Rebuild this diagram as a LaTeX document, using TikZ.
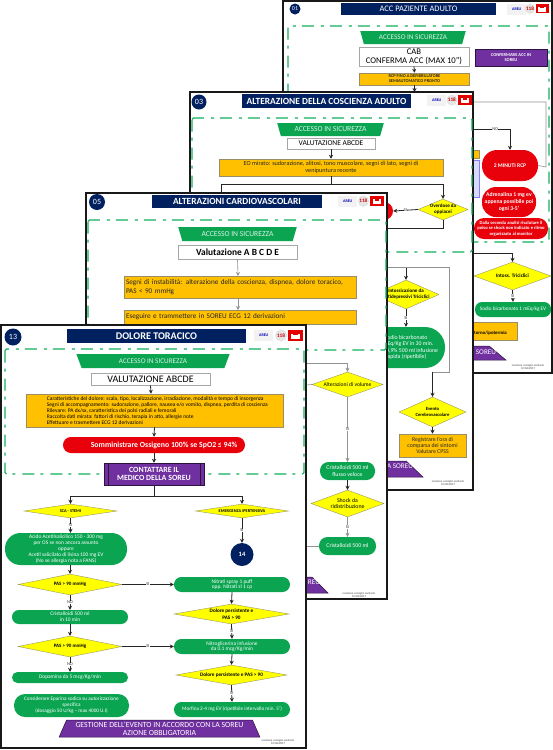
\documentclass[tikz,border=0pt]{standalone}
\usepackage{fontspec}
\setmainfont{Carlito}
\usetikzlibrary{arrows.meta,calc,shapes.geometric}
\definecolor{navySoreu}{HTML}{002060}
\definecolor{verdeFlow}{HTML}{0BA552}
\definecolor{verdeDash}{HTML}{12B05C}
\definecolor{aranciaFlow}{HTML}{FFC000}
\definecolor{violaFlow}{HTML}{7030A0}
\definecolor{rossoFlow}{HTML}{E8000B}
\definecolor{gialloFlow}{HTML}{FFFF00}
\newcommand{\setfs}[2]{\fontsize{#1}{#2}\selectfont}
\newcommand{\ovl}[1]{\makebox[0pt][c]{#1}}
\tikzset{
  dim/.style 2 args={minimum width=#1,minimum height=#2},
  allbox/.style={rectangle,inner sep=0pt,align=center},
  panelbox/.style={draw=black!90,line width=1.8pt,fill=white},
  safezone/.style={draw=verdeDash,line width=1.3pt,rounded corners=1.5pt,dash pattern=on 12pt off 6pt on 3pt off 7pt},
  badge/.style={circle,fill=navySoreu,text=white,inner sep=0pt},
  titlebox/.style={allbox,fill=navySoreu,text=white},
  secure/.style={trapezium,trapezium stretches=true,trapezium left angle=62,trapezium right angle=62,shape border rotate=180,fill=verdeFlow,text=white!85!verdeFlow,inner sep=0pt},
  whitebox/.style={allbox,draw=gray!70,line width=.8pt,fill=white},
  orangebox/.style={allbox,draw=gray!80!aranciaFlow,line width=.5pt,fill=aranciaFlow,text=black!85},
  purplebox/.style={allbox,draw=black!60!violaFlow,line width=.5pt,fill=violaFlow,text=white},
  bottomtrap/.style={trapezium,trapezium stretches=true,trapezium left angle=64,trapezium right angle=64,draw=black!60!violaFlow,line width=.5pt,fill=violaFlow,text=white,inner sep=0pt,align=center},
  greenbox/.style={allbox,fill=verdeFlow,text=white,rounded corners=#1},
  redbox/.style={allbox,fill=rossoFlow,text=white,rounded corners=#1},
  decision/.style={diamond,aspect=4.5,draw=gray!80!gialloFlow,line width=.4pt,fill=gialloFlow,text=black,inner sep=0pt,align=center},
  flowline/.style={draw=black!85,line width=.8pt},
  thinline/.style={draw=gray!85,line width=.6pt},
  edgetag/.style={font=\setfs{4.4}{5},fill=white,inner sep=.4pt,text=black!80},
  revtext/.style={font=\setfs{2.9}{3.4},align=center,text=black!75,inner sep=0pt},
}
\newcommand{\logobar}[4]{
  \begin{scope}[shift={(#2,#3)},scale=#4]
    \node[allbox,dim={19pt}{11pt},fill=gray!10,text=blue!70!black,font=\bfseries\setfs{4}{4},anchor=north west] (#1areu) at (0,0) {AREU};
    \draw[fill=gray!20,draw=gray!30,line width=.3pt] (27,5.5) circle (5.6);
    \node[inner sep=0pt,text=red!80!black,font=\bfseries\setfs{5.2}{6}] (#1ctr) at (27,5.5) {118};
    \fill[red!90!black] (34,0) rectangle (49,11);
    \fill[white] (37,3.5) rectangle (46,9);
    \fill[red!90!black] (39,2) rectangle (44,5);
  \end{scope}
}
\begin{document}
\begin{tikzpicture}[x=1pt,y=-1pt,>={Stealth[length=4pt,width=4pt]}]
  \useasboundingbox (0,0) rectangle (553,750);
  % scheda 01
  \draw[panelbox] (283,1) rectangle (552,373);
  \node[badge,minimum size=11pt,font=\setfs{6}{7}] (bad01) at (295,9) {01};
  \node[titlebox,dim={155pt}{12pt},font=\setfs{8.4}{9}] (tit01) at (418.5,9) {ACC PAZIENTE ADULTO};
  \logobar{log01}{507}{4}{.85}
  \draw[safezone] (288,26) rectangle (549,242);
  \node[secure,dim={106pt}{13pt},font=\setfs{7.2}{8}] (acc01) at (413,37.5) {ACCESSO IN SICUREZZA};
  \node[whitebox,dim={110pt}{19pt},font=\setfs{8.7}{9.4}] (cab01) at (414,56.5) {CAB\\CONFERMA ACC (MAX 10'')};
  \node[purplebox,dim={72pt}{17pt},font=\bfseries\setfs{4.5}{5.4}] (con01) at (511,57.5) {CONFERMARE ACC IN\\SOREU};
  \node[orangebox,dim={110pt}{12pt},font=\bfseries\setfs{4.4}{5}] (rcp01) at (414.5,79) {RCP FINO A DEFIBRILLATORE\\SEMIAUTOMATICO PRONTO};
  \coordinate (giu01) at (414.5,92);
  \draw[flowline,->] (cab01.south) -- (rcp01.north);
  \draw[flowline,->] (rcp01.south) -- (giu01);
  \node[orangebox,dim={58pt}{8pt}] (stri01) at (450,154) {};
  \node[allbox,dim={58pt}{37pt},draw=blue!50,line width=.5pt,fill=blue!15] (blu01) at (450,178.5) {};
  \node[redbox=15pt,dim={56pt}{31pt},font=\bfseries\setfs{5.6}{6}] (min01) at (510,165.5) {2 MINUTI RCP};
  \node[redbox=14pt,dim={54pt}{30pt},font=\bfseries\setfs{5.7}{6.6}] (adr01) at (509,202) {Adrenalina 1 mg ev\\appena possibile poi\\ogni 3-5'};
  \node[redbox=10pt,dim={74pt}{21pt},font=\bfseries\setfs{4.6}{5.4}] (dal01) at (511,228.5) {Dalla seconda analisi rivalutare il\\polso se shock non indicato e ritmo\\organizzato al monitor};
  \coordinate (no01) at (473,129);
  \coordinate (tor01) at (473,102);
  \draw[flowline,->] (no01) -| node[edgetag,pos=.3] (tno01) {NO} (min01.north);
  \draw[thinline] (tor01) -| (546,167) -- (min01.east);
  \coordinate (int01) at (473,253);
  \node[decision,dim={77pt}{28pt},font=\bfseries\setfs{5.2}{6}] (tri01) at (512.5,276) {\ovl{Intoss. Triciclici}};
  \node[greenbox=7pt,dim={76pt}{15pt},font=\setfs{5.2}{6}] (sod01) at (513,309.5) {Sodio bicarbonato 1 mEq/kg EV};
  \node[orangebox,dim={77pt}{18pt}] (ipo01) at (478.5,331) {};
  \node[anchor=east,inner sep=0pt,font=\bfseries\setfs{4.8}{5}] (ipt01) at (507,333) {ritorno/ipotermia};
  \node[bottomtrap,dim={180pt}{14pt}] (sor01) at (416,353) {\phantom{SOREU}};
  \node[inner sep=0pt,text=white,font=\setfs{7.2}{8}] (sot01) at (486,352) {SOREU};
  \node[revtext] (rev01) at (528,367) {revisione consiglio sanitario\\12/06/2017};
  \draw[flowline,->] (int01) -| (tri01.north);
  \draw[flowline,->] (tri01.south) -- node[edgetag] (tsi01) {SI} (sod01.north);
  % scheda 03
  \draw[panelbox] (190,92) rectangle (473,490);
  \node[badge,minimum size=15pt,font=\setfs{8}{9}] (bad03) at (199,102) {03};
  \node[titlebox,dim={169pt}{14pt},font=\bfseries\setfs{9.4}{10}] (tit03) at (326.5,101) {ALTERAZIONE DELLA COSCIENZA ADULTO};
  \logobar{log03}{427}{95}{.92}
  \draw[safezone] (192,118) rectangle (472,252);
  \node[secure,dim={107pt}{13pt},font=\setfs{7.6}{8}] (acc03) at (330.5,129.5) {ACCESSO IN SICUREZZA};
  \node[whitebox,dim={88pt}{11pt},font=\setfs{7.5}{8}] (val03) at (331,143.5) {VALUTAZIONE ABCDE};
  \node[orangebox,dim={224pt}{17pt},font=\setfs{6.2}{6.6}] (eom03) at (331,167.5) {EO mirato: sudorazione, alitosi, tono muscolare, segni di lato, segni di\\venipuntura recente};
  \node[decision,dim={50pt}{21pt},font=\bfseries\setfs{5}{5.8}] (ove03) at (443,209.5) {\ovl{Overdose da}\\\ovl{oppiacei}};
  \node[redbox=9pt,dim={40pt}{18pt}] (nal03) at (373,211) {};
  \coordinate (sin03) at (221,193);
  \coordinate (sot03) at (387,228);
  \draw[flowline,->] (val03.south) -- (eom03.north);
  \draw[flowline] (eom03.south) -- ++(0,8) -| (sin03);
  \draw[flowline,->] (eom03.south) -- ++(0,8) -| (ove03.north);
  \draw[flowline,->] (ove03.west) -- node[edgetag] (tsi03) {SI} (nal03.east);
  \draw[flowline] (ove03.south) |- (sot03);
  \coordinate (mez03) at (388,267);
  \node[decision,dim={66pt}{29pt},font=\bfseries\setfs{5}{6}] (ant03) at (406,294.5) {\ovl{Intossicazione da}\\\ovl{Antidepressivi Triciclici}};
  \node[greenbox=20pt,dim={78pt}{41pt},font=\setfs{5.8}{6.2}] (bic03) at (406,347.5) {Sodio bicarbonato\\1 mEq/Kg EV in 30 min.\\NaCl 0,9\% 500 ml infusione\\rapida (ripetibile)};
  \node[decision,dim={67pt}{30pt},font=\bfseries\setfs{4.7}{6}] (cer03) at (432.5,412) {\ovl{Evento}\\\ovl{Cerebrovascolare}};
  \node[orangebox,dim={67pt}{23pt},font=\setfs{5.8}{6.4}] (reg03) at (432.5,445.5) {Registrare l'ora di\\comparsa dei sintomi\\Valutare CPSS};
  \node[bottomtrap,dim={180pt}{16pt}] (sor03) at (333,469) {\phantom{SOREU}};
  \node[inner sep=0pt,text=white,font=\setfs{7.2}{8}] (sot03t) at (400,466) {A SOREU};
  \node[revtext] (rev03) at (448,483) {revisione consiglio sanitario\\12/06/2017};
  \draw[flowline,->] (406,267) -- (ant03.north);
  \draw[thinline] (mez03) -| (449,372) -- (432.5,372);
  \draw[flowline,->] (432.5,372) -- (cer03.north);
  \draw[flowline,->] (ant03.south) -- node[edgetag] (tsa03) {SI} (bic03.north);
  \draw[flowline,->] (cer03.south) -- (reg03.north);
  % scheda 05
  \draw[panelbox] (86,193) rectangle (387,599);
  \node[badge,minimum size=16pt,font=\setfs{8}{9}] (bad05) at (97,202) {05};
  \node[titlebox,dim={170pt}{13pt},font=\bfseries\setfs{9.4}{10}] (tit05) at (237,201.5) {ALTERAZIONI CARDIOVASCOLARI};
  \logobar{log05}{338}{196}{.94}
  \draw[safezone] (88,220) rectangle (386,350);
  \node[secure,dim={119pt}{14pt},font=\setfs{7.6}{8}] (acc05) at (237.5,234) {ACCESSO IN SICUREZZA};
  \node[whitebox,dim={119pt}{14pt},font=\bfseries\setfs{9.4}{10}] (val05) at (237.5,252) {Valutazione A B C D E};
  \node[orangebox,dim={232pt}{22pt},text width=228pt,align=left,font=\setfs{7.2}{8.4}] (seg05) at (240,287) {Segni di instabilità: alterazione della coscienza, dispnea, dolore toracico,\\PAS < 90 mmHg};
  \node[orangebox,dim={232pt}{14pt},text width=228pt,align=left,font=\setfs{7.2}{8}] (ecg05) at (240,317) {Eseguire e trammettere in SOREU ECG 12 derivazioni};
  \draw[thinline,->] (val05.south) -- (238,276);
  \draw[thinline,->] (238,298) -- (238,310);
  \node[decision,dim={71pt}{25pt},font=\setfs{5.6}{6}] (vol05) at (347.5,384.5) {\ovl{Alterazioni di volume}};
  \node[greenbox=8.5pt,dim={55pt}{18pt},font=\setfs{5.8}{6.6}] (cri05) at (347.5,471) {Cristalloidi 500 ml\\flusso veloce};
  \node[decision,dim={73pt}{27pt},font=\setfs{5.8}{6.6}] (sho05) at (347.5,503.5) {\ovl{Shock da}\\\ovl{ridistribuzione}};
  \node[greenbox=8.5pt,dim={57pt}{18pt},font=\setfs{5.8}{6.4}] (crj05) at (347.5,546) {Cristalloidi 500 ml};
  \node[bottomtrap,dim={170pt}{16pt}] (sor05) at (243,585) {\phantom{SOREU}};
  \node[inner sep=0pt,text=white,font=\setfs{7.2}{8}] (sot05) at (314,582) {REU};
  \node[revtext] (rev05) at (359,595) {revisione consiglio sanitario\\12/06/2017};
  \coordinate (ent05) at (306,363);
  \coordinate (lat05) at (306,385);
  \coordinate (bas05) at (306,546);
  \draw[thinline,->] (ent05) -| (vol05.north);
  \draw[thinline] (lat05) -- (vol05.west);
  \draw[thinline,->] (vol05.south) -- node[edgetag] (tsi05) {SI} (cri05.north);
  \draw[flowline,->] (cri05.south) -- (sho05.north);
  \draw[thinline,->] (sho05.south) -- node[edgetag] (tsj05) {SI} (crj05.north);
  \draw[thinline] (bas05) -- (crj05.west);
  % scheda 13
  \draw[panelbox] (1,325) rectangle (306,748);
  \node[badge,minimum size=17pt,font=\setfs{8}{9}] (bad13) at (13,337) {13};
  \node[titlebox,dim={179pt}{14pt},font=\bfseries\setfs{10.2}{11}] (tit13) at (156.5,336) {DOLORE TORACICO};
  \logobar{log13}{254}{330}{1}
  \draw[safezone] (5,349) rectangle (304,474);
  \node[secure,dim={154pt}{14pt},font=\setfs{7.2}{8}] (acc13) at (153,361) {ACCESSO IN SICUREZZA};
  \node[whitebox,dim={119pt}{12pt},font=\setfs{10}{10.5}] (val13) at (150.5,379) {VALUTAZIONE ABCDE};
  \node[orangebox,dim={257pt}{33pt}] (car13) at (154.5,410.5) {};
  \node[anchor=west,inner sep=0pt,align=left,font=\setfs{5.5}{6}] (cat13) at ([xshift=21pt]car13.west) {Caratteristiche del dolore: scala, tipo, localizzazione, irradiazione, modalità e tempo di insorgenza\\Segni di accompagnamento: sudorazione, pallore, nausea e/o vomito, dispnea, perdita di coscienza\\Rilevare: PA dx/sx, caratteristica dei polsi radiali e femorali\\Raccolta dati mirata: fattori di rischio, terapia in atto, allergie note\\Effettuare e trasmettere ECG 12 derivazioni};
  \node[redbox=7.9pt,dim={182pt}{16pt},font=\bfseries\setfs{7.8}{8}] (oss13) at (154,445) {\hspace*{20pt}Somministrare Ossigeno 100\% se SpO2 ≤ 94\%};
  \node[purplebox,dim={100pt}{22pt},font=\bfseries\setfs{7.9}{8.4}] (med13) at (154,474) {CONTATTARE IL\\MEDICO DELLA SOREU};
  \draw[black!60!violaFlow,line width=.5pt] ([xshift=4pt]med13.north west) -- ([xshift=4pt]med13.south west);
  \draw[black!60!violaFlow,line width=.5pt] ([xshift=-4pt]med13.north east) -- ([xshift=-4pt]med13.south east);
  \node[decision,dim={93pt}{14pt},font=\bfseries\setfs{4.3}{5}] (sca13) at (70.5,511) {\ovl{SCA - STEMI}};
  \node[decision,dim={93pt}{14pt},font=\bfseries\setfs{4.3}{5}] (eme13) at (242,511) {\ovl{EMERGENZA IPERTENSIVA}};
  \node[greenbox=15.5pt,dim={122pt}{32pt},font=\setfs{5.4}{5.8}] (asa13) at (66,549) {Acido Acetilsalicilico 150 - 300 mg\\per OS se non ancora assunto\\oppure\\Acetil salicilato di lisina 100 mg EV\\(No se allergia nota a FANS)};
  \node[circle,fill=navySoreu,text=white,minimum size=23pt,inner sep=0pt,font=\bfseries\setfs{6.5}{7}] (qua13) at (242,554.5) {14};
  \node[decision,dim={104pt}{21pt},font=\bfseries\setfs{5}{5.6}] (pas13) at (70,584.5) {\ovl{PAS > 90 mmHg}};
  \node[greenbox=7.4pt,dim={116pt}{15pt},font=\setfs{5.4}{5.8}] (nit13) at (232,584.5) {Nitrati spray 1 puff\\opp. Nitrati sl 1 cp};
  \node[greenbox=6.9pt,dim={116pt}{14pt},font=\setfs{5.4}{5.8}] (cri13) at (70,617) {Cristalloidi 500 ml\\in 10 min};
  \node[decision,dim={115pt}{20pt},font=\bfseries\setfs{5.2}{6.4}] (dol13) at (231.5,614) {\ovl{Dolore persistente e}\\\ovl{PAS > 90}};
  \node[decision,dim={104pt}{21pt},font=\bfseries\setfs{5}{5.6}] (paz13) at (70,646.5) {\ovl{PAS > 90 mmHg}};
  \node[greenbox=7.4pt,dim={116pt}{15pt},font=\setfs{5.4}{5.8}] (ngl13) at (232,646.5) {Nitroglicerina infusione\\da 0.1 mcg/Kg/min};
  \node[decision,dim={111pt}{20pt},font=\bfseries\setfs{5.2}{6}] (dom13) at (231.5,675) {\ovl{Dolore persistente e PAS > 90}};
  \node[greenbox=5.4pt,dim={116pt}{11pt},font=\setfs{5.4}{6}] (dop13) at (70,677.5) {Dopamina da 5 mcg/Kg/min};
  \node[greenbox=11pt,dim={115pt}{23pt},font=\setfs{5.2}{6}] (epa13) at (71.5,705.5) {Considerare Eparina sodica su autorizzazione\\specifica\\(dosaggio 50 U/kg -- max 4000 U.I)};
  \node[greenbox=7.4pt,dim={116pt}{15pt},font=\setfs{5.2}{6}] (mor13) at (232,709.5) {Morfina 2-4 mg EV (ripetibile intervallo min. 5')};
  \node[bottomtrap,dim={201pt}{17pt},font=\setfs{7.8}{8.2}] (ges13) at (159.5,728.5) {GESTIONE DELL'EVENTO IN ACCORDO CON LA SOREU\\AZIONE OBBLIGATORIA};
  \node[revtext] (rev13) at (278,742) {revisione consiglio sanitario\\12/06/2017};
  \draw[flowline,->] (val13.south) -- ([xshift=.5pt]val13.south |- car13.north);
  \draw[flowline,->] (car13.south) -- (oss13.north);
  \draw[flowline,->] (oss13.south) -- (med13.north);
  \draw[flowline,->] (med13.south) -- ++(0,11) -| (sca13.north);
  \draw[flowline,->] (med13.south) -- ++(0,11) -| (eme13.north);
  \draw[flowline,->] (sca13.south) -- node[edgetag] (tsc13) {SI} ([xshift=4.5pt]asa13.north);
  \draw[flowline,->] (eme13.south) -- node[edgetag] (tem13) {SI} (qua13.north);
  \draw[flowline,->] ([xshift=4pt]asa13.south) -- (pas13.north);
  \draw[flowline,->] (pas13.east) -- node[edgetag] (tpa13) {SI} (nit13.west);
  \draw[flowline,->] (pas13.south) -- node[edgetag] (tpn13) {NO} (cri13.north);
  \draw[flowline,->] (cri13.south) -- (paz13.north);
  \draw[flowline,->] (paz13.east) -- node[edgetag] (tpz13) {SI} (ngl13.west);
  \draw[flowline,->] (paz13.south) -- node[edgetag] (tpo13) {NO} (dop13.north);
  \draw[flowline,->] (nit13.south) -- (dol13.north);
  \draw[flowline,->] (dol13.south) -- node[edgetag] (tdo13) {SI} (ngl13.north);
  \draw[flowline,->] (ngl13.south) -- (dom13.north);
  \draw[flowline,->] (dom13.south) -- node[edgetag] (tdm13) {SI} (mor13.north);
\end{tikzpicture}
\end{document}
